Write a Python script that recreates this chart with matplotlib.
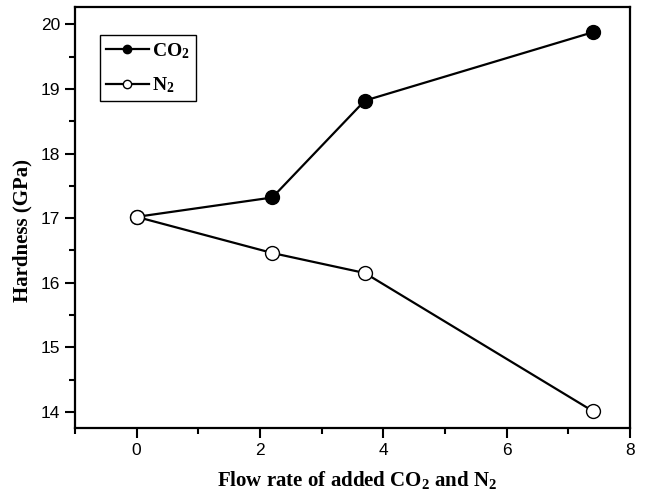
import matplotlib
matplotlib.use("Agg")
import matplotlib.pyplot as plt
from matplotlib.ticker import MultipleLocator

plt.rcParams['mathtext.fontset'] = 'custom'
plt.rcParams['mathtext.rm'] = 'Liberation Serif:bold'
plt.rcParams['mathtext.bf'] = 'Liberation Serif:bold'
plt.rcParams['mathtext.it'] = 'Liberation Serif:bold'

flow = [0, 2.2, 3.7, 7.4]
co2_hardness = [17.02, 17.32, 18.82, 19.88]
n2_hardness = [17.02, 16.46, 16.15, 14.01]

fig = plt.figure(figsize=(6.45, 4.98), dpi=100)
ax = fig.add_axes([0.1163, 0.1406, 0.8604, 0.8453])

ax.plot(flow, co2_hardness, '-o', color='black', lw=1.6, ms=10,
        mfc='black', mec='black', label='CO$_2$')
ax.plot(flow, n2_hardness, '-o', color='black', lw=1.6, ms=10,
        mfc='white', mec='black', mew=1.0, label='N$_2$')

ax.set_xlim(-1, 8)
ax.set_ylim(13.75, 20.27)
ax.xaxis.set_major_locator(MultipleLocator(2))
ax.xaxis.set_minor_locator(MultipleLocator(1))
ax.yaxis.set_major_locator(MultipleLocator(1))
ax.yaxis.set_minor_locator(MultipleLocator(0.5))
ax.tick_params(which='both', direction='out', top=False, right=False, width=1.5)
ax.tick_params(which='major', length=7, labelsize=12.5)
ax.tick_params(which='minor', length=4)
for lab in ax.get_xticklabels() + ax.get_yticklabels():
    lab.set_family('Liberation Sans')
for s in ax.spines.values():
    s.set_linewidth(1.6)

ax.set_xlabel('Flow rate of added CO$_2$ and N$_2$', family='Liberation Serif',
              weight='bold', fontsize=15)
ax.set_ylabel('Hardness (GPa)', family='Liberation Serif', weight='bold',
              fontsize=15)
ax.xaxis.set_label_coords(0.508, -0.098)
ax.yaxis.set_label_coords(-0.077, 0.47)

leg = ax.legend(loc='upper left', bbox_to_anchor=(0.045, 0.933), fancybox=False,
                edgecolor='black', framealpha=1, handlelength=2.2, borderaxespad=0,
                prop={'family': 'Liberation Serif', 'weight': 'bold', 'size': 14},
                borderpad=0.3, handletextpad=0.2, labelspacing=0.75, markerscale=0.6)
leg.get_frame().set_linewidth(1.0)

fig.savefig('out.png', dpi=100)
